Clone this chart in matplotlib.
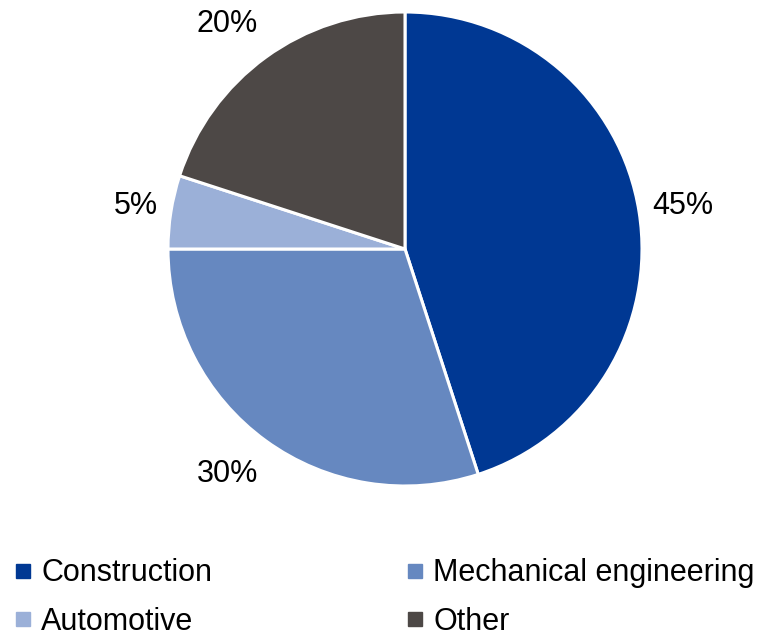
import numpy as np
import matplotlib.pyplot as plt
from matplotlib.lines import Line2D

plt.rcParams['font.family'] = ['Liberation Sans', 'DejaVu Sans']

labels = ["Construction", "Mechanical engineering", "Automotive", "Other"]
shares = [45, 30, 5, 20]
colors = ["#003893", "#6688C0", "#9BB0D8", "#4D4846"]

fig = plt.figure(figsize=(7.6, 6.36), dpi=100)
# pie centre ~ (405, 249) px, radius ~237 px
ax = fig.add_axes([(405 - 237) / 760, (636 - 249 - 237) / 636, 474 / 760, 474 / 636])
wedges, texts = ax.pie(shares, colors=colors, startangle=90, counterclock=False,
                       labels=[f"{s}%" for s in shares],
                       wedgeprops=dict(edgecolor="white", linewidth=2.2),
                       textprops=dict(fontsize=22, color="black"))

# place labels outside like the spreadsheet does: edge near the rim
for w, t in zip(wedges, texts):
    ang = np.deg2rad((w.theta1 + w.theta2) / 2)
    c, s = np.cos(ang), np.sin(ang)
    t.set_position((1.055 * c, 1.173 * s))
    t.set_ha("left" if c > 0 else "right")
    t.set_va("center")

ax.set_xlim(-1, 1)
ax.set_ylim(-1, 1)
ax.set_aspect("equal")

handles = [Line2D([], [], marker="s", linestyle="none", markersize=9.5,
                  markerfacecolor=c, markeredgecolor=c) for c in colors]
# order so that rows read: Construction | Mechanical, Automotive | Other
order = [0, 2, 1, 3]
fig.legend([handles[i] for i in order], [labels[i] for i in order],
           ncol=2, loc="lower left", bbox_to_anchor=(-0.006, -0.03),
           frameon=False, fontsize=22, handlelength=0.6, handletextpad=0.3,
           columnspacing=6.33, labelspacing=0.6, borderaxespad=0.2)

fig.savefig("out.png", dpi=100)
